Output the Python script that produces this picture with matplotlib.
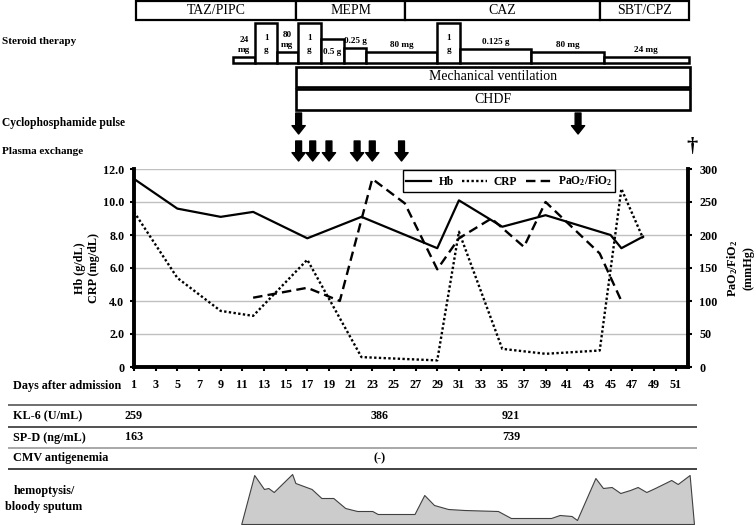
import matplotlib.pyplot as plt
import numpy as np

plt.rcParams['font.family'] = ['Liberation Serif', 'DejaVu Serif']
plt.rcParams['font.weight'] = 'bold'
plt.rcParams['mathtext.fontset'] = 'custom'
plt.rcParams['mathtext.rm'] = 'Liberation Serif:bold'
plt.rcParams['mathtext.it'] = 'Liberation Serif:bold'
plt.rcParams['mathtext.bf'] = 'Liberation Serif:bold'

# laboratory data
lab_days = [1, 5, 9, 12, 17, 22, 29, 31, 35, 39, 44, 46, 48]
hb_days = [1, 5, 9, 12, 17, 22, 29, 31, 35, 39, 45, 46, 48]
hb = [11.4, 9.6, 9.1, 9.4, 7.8, 9.1, 7.2, 10.1, 8.5, 9.2, 8.0, 7.2, 7.9]
crp = [9.4, 5.4, 3.4, 3.1, 6.5, 0.6, 0.4, 8.2, 1.1, 0.8, 1.0, 10.8, 7.8]
pf_days = [12, 17, 20, 23, 26, 29, 31, 34, 37, 39, 44, 46]
pf = [105, 120, 100, 285, 248, 148, 195, 225, 182, 250, 172, 100]

# treatments
antibiotics = ['TAZ/PIPC', 'MEPM', 'CAZ', 'SBT/CPZ']
abx_edges = [1.2, 16, 26, 44, 52.25]
steroid_text = ['24\nmg', '1\ng', '80\nmg', '1\ng', '0.5 g', '0.25 g', '80 mg',
                '1\ng', '0.125 g', '80 mg', '24 mg']
steroid_edges = [10.1, 12.2, 14.2, 16.1, 18.25, 20.4, 22.4, 29.0, 31.1, 37.7, 44.4, 52.2]
steroid_level = [6, 40, 11, 40, 24, 15, 11, 40, 14, 11, 6]
support = ['Mechanical ventilation', 'CHDF']
support_span = [16.0, 52.3]
cyclo_days = [16.2, 42]
pe_days = [16.2, 17.5, 19, 21.6, 23, 25.7]
death_day = 52.5

# table
kl6_days = [1, 23.7, 35.8]
kl6_vals = ['259', '386', '921']
spd_days = [1, 35.8]
spd_vals = ['163', '739']
cmv_days = [23.7]
cmv_vals = ['(-)']

# hemoptysis / bloody sputum (relative amount)
hemo_days = [10.9, 12.1, 13.0, 13.4, 13.9, 15.6, 15.9, 17.4, 18.3, 19.4, 20.5, 21.6, 23.0,
             23.5, 26.9, 27.8, 28.7, 30.0, 31.5, 34.6, 35.8, 39.5, 40.3, 41.4, 41.9, 43.6,
             44.3, 45.1, 45.9, 46.8, 47.5, 48.3, 49.1, 50.6, 51.2, 52.3, 52.7]
hemo_level = [0, 49, 35, 36, 32, 50, 41, 35, 26, 26, 16, 13, 13, 10, 10, 29, 19, 15, 14, 13,
              6, 6, 9, 8, 4, 46, 36, 37, 31, 34, 37, 32, 36, 44, 40, 49, 0]

W, H = 756, 525
L, R, T, B = 134, 688, 169, 367
X0, X1 = 1, 52.15
ppd = (R - L) / (X1 - X0)


def px(xp):
    return X0 + (xp - L) / ppd


fig = plt.figure(figsize=(W / 100, H / 100), dpi=100)
ax = fig.add_axes([L / W, 1 - B / H, (R - L) / W, (B - T) / H])
ax2 = ax.twinx()
ov = fig.add_axes([0, 0, 1, 1], zorder=5)
ov.set_xlim(px(0), px(W))
ov.set_ylim(H, 0)
ov.axis('off')

# main chart
ax.set_xlim(X0, X1)
ax.set_ylim(0, 12)
ax.set_yticks(np.arange(0, 13, 2))
ax.set_yticklabels(['0'] + ['%.1f' % v for v in range(2, 13, 2)])
ax.set_xticks(range(1, 52, 2))
ax.grid(axis='y', color='#c0c0c0', lw=1)
ax.set_axisbelow(True)
l1, = ax.plot(hb_days, hb, color='black', lw=1.6)
l2, = ax.plot(lab_days, crp, color='black', lw=1.7, ls=(0, (1, 1)))
ax2.set_ylim(0, 300)
ax2.set_yticks(range(0, 301, 50))
l3, = ax2.plot(pf_days, pf, color='black', lw=1.7, ls=(0, (4, 2.2)))

for s in ['top', 'right']:
    ax.spines[s].set_visible(False)
for s in ['top', 'left', 'bottom']:
    ax2.spines[s].set_visible(False)
for s in ['left', 'bottom']:
    ax.spines[s].set_linewidth(2.8)
ax2.spines['right'].set_linewidth(2.8)
ax.tick_params(axis='both', direction='out', length=3, width=1.5, pad=4, labelsize=8.7)
ax.tick_params(axis='x', pad=6)
ax2.tick_params(axis='y', direction='out', length=3, width=1.5, pad=5, labelsize=8.7)

leg = ax2.legend([l1, l2, l3], ['Hb', 'CRP', 'PaO$_2$/FiO$_2$'], ncol=3, loc='center',
                 bbox_to_anchor=(0.677, 0.939), fancybox=False, edgecolor='black',
                 framealpha=1, fontsize=8.3, handlelength=2.2, columnspacing=0.7,
                 handletextpad=0.6, borderpad=0.3)
leg.get_frame().set_linewidth(1)

fig.text(87 / W, 1 - 268 / H, 'Hb (g/dL)\nCRP (mg/dL)', rotation=90, ha='center',
         va='center', fontsize=8.7, multialignment='center')
fig.text(740 / W, 1 - 268 / H, 'PaO$_2$/FiO$_2$\n(mmHg)', rotation=90, ha='center',
         va='center', fontsize=8.7, multialignment='center')

# antibiotics
abx_w = np.diff(abx_edges)
ov.bar(abx_edges[:-1], 19, width=abx_w, bottom=1, align='edge', facecolor='white',
       edgecolor='black', lw=1.6)
for name, x, w in zip(antibiotics, abx_edges[:-1], abx_w):
    ov.text(x + w / 2, 11, name, ha='center', va='center', fontsize=10, fontweight='normal')

# steroid therapy
st_w = np.diff(steroid_edges)
ov.bar(steroid_edges[:-1], [-v for v in steroid_level], width=st_w, bottom=63,
       align='edge', facecolor='white', edgecolor='black', lw=1.8)
for t, x, w, lv in zip(steroid_text, steroid_edges[:-1], st_w, steroid_level):
    if lv >= 24:
        ov.text(x + w / 2, 63 - lv / 2 + 1, t, ha='center', va='center', fontsize=6.6,
                linespacing=1.5)
    else:
        ov.text(x + w / 2, 63 - lv - 3, t, ha='center', va='bottom', fontsize=6.6,
                linespacing=1.3)

# mechanical ventilation / CHDF
ov.bar([support_span[0]] * 2, [20, 21], width=support_span[1] - support_span[0],
       bottom=[67, 89], align='edge', facecolor='white', edgecolor='black', lw=1.9)
for name, yc in zip(support, [77, 99.5]):
    ov.text(sum(support_span) / 2, yc, name, ha='center', va='center', fontsize=10,
            fontweight='normal')

arrow = dict(arrowstyle='simple,head_length=0.6,head_width=0.95,tail_width=0.42',
             fc='black', ec='black', shrinkA=0, shrinkB=0, mutation_scale=10)
for d in cyclo_days:
    ov.annotate('', xy=(d, 134), xytext=(d, 113), arrowprops=arrow)
for d in pe_days:
    ov.annotate('', xy=(d, 161), xytext=(d, 141), arrowprops=arrow)
ov.text(death_day, 147, '\u2020', ha='center', va='center', fontsize=16)

ov.text(px(2), 41, 'Steroid therapy', ha='left', va='center', fontsize=8)
ov.text(px(2), 123, 'Cyclophosphamide pulse', ha='left', va='center', fontsize=8.3)
ov.text(px(2), 151, 'Plasma exchange', ha='left', va='center', fontsize=8)
ov.text(px(13), 386, 'Days after admission', ha='left', va='center', fontsize=8.7)

# table
ov.hlines([405, 427, 448, 469], px(8), px(697),
          colors=['#555555', '#333333', '#999999', '#222222'], lw=1.2)
rows = [('KL-6 (U/mL)', 416, kl6_days, kl6_vals),
        ('SP-D (ng/mL)', 437.5, spd_days, spd_vals),
        ('CMV antigenemia', 458.5, cmv_days, cmv_vals)]
for label, yc, ds, vs in rows:
    ov.text(px(13), yc, label, ha='left', va='center', fontsize=8.7)
    for d, v in zip(ds, vs):
        ov.text(d, yc, v, ha='center', va='center', fontsize=8.7)
ov.text(px(44), 499, 'hemoptysis/\nbloody sputum', ha='center', va='center',
        fontsize=8.7, linespacing=1.5)

axh = fig.add_axes([L / W, 1 - 524 / H, (R - L) / W, 54 / H])
axh.set_xlim(X0, X1)
axh.set_ylim(0, 54)
axh.axis('off')
axh.fill_between(hemo_days, 0, hemo_level, facecolor='#cccccc', edgecolor='#404040',
                 lw=0.8, clip_on=False)

fig.savefig('out.png', dpi=100)
